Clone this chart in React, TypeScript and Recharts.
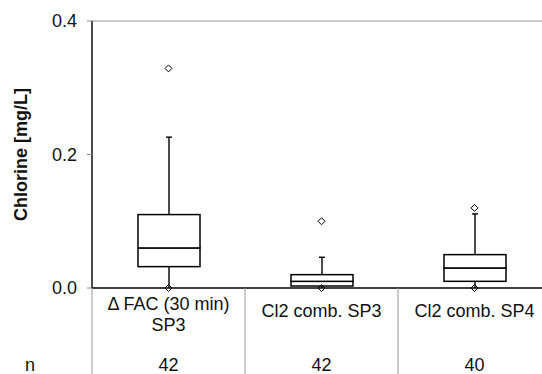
import { ComposedChart, Bar, Scatter, XAxis, YAxis, ReferenceLine } from "recharts";

const categories = ["Δ FAC (30 min) SP3", "Cl2 comb. SP3", "Cl2 comb. SP4"];
const categoryLines = [["Δ FAC (30 min)", "SP3"], ["Cl2 comb. SP3"], ["Cl2 comb. SP4"]];
const counts = [42, 42, 40];
const mins = [0, 0, 0];
const q1s = [0.032, 0.003, 0.01];
const medians = [0.06, 0.01, 0.03];
const q3s = [0.11, 0.02, 0.05];
const maxs = [0.226, 0.046, 0.111];
const outliers = [0.329, 0.1, 0.12];
const yTicks = [0, 0.2, 0.4];

const font = "'Liberation Sans', Arial, sans-serif";

const data = categories.map((name, i) => ({
  name,
  base: mins[i],
  lowWhisker: q1s[i] - mins[i],
  lowBox: medians[i] - q1s[i],
  highBox: q3s[i] - medians[i],
  highWhisker: maxs[i] - q3s[i],
  min: mins[i],
  outlier: outliers[i],
}));

function Whisker(props: any) {
  const { x, y, width, height } = props;
  const cx = x + width / 2;
  return <line x1={cx} y1={y} x2={cx} y2={y + height} stroke="#000" strokeWidth={1.4} />;
}

function TopWhisker(props: any) {
  const { x, y, width, height } = props;
  const cx = x + width / 2;
  return (
    <g>
      <line x1={cx} y1={y} x2={cx} y2={y + height} stroke="#000" strokeWidth={1.4} />
      <line x1={cx - 3} y1={y} x2={cx + 3} y2={y} stroke="#000" strokeWidth={1.4} />
    </g>
  );
}

function BoxPart(props: any) {
  const { x, y, width, height } = props;
  return <rect x={x} y={y} width={width} height={height} fill="#fff" stroke="#000" strokeWidth={1.5} />;
}

function Diamond(props: any) {
  const { cx, cy } = props;
  const r = 3.5;
  return (
    <path
      d={`M${cx},${cy - r}L${cx + r},${cy}L${cx},${cy + r}L${cx - r},${cy}Z`}
      fill="none"
      stroke="#000"
      strokeWidth={1}
    />
  );
}

function CategoryTick(props: any) {
  const { x, y, payload } = props;
  const i = categories.indexOf(payload.value);
  const half = payload.offset || 76.5;
  const lines = categoryLines[i] || [];
  const textProps = { fontFamily: font, fontSize: 18, fill: "#111", textAnchor: "middle" as const };
  return (
    <g>
      {lines.length === 2 ? (
        <>
          <text x={x} y={y + 22} {...textProps}>{lines[0]}</text>
          <text x={x} y={y + 43} {...textProps}>{lines[1]}</text>
        </>
      ) : (
        <text x={x} y={y + 29} {...textProps}>{lines[0]}</text>
      )}
      <text x={x} y={y + 83} {...textProps}>{counts[i]}</text>
      <line x1={x + half} y1={y} x2={x + half} y2={y + 90} stroke="#999" />
      {i === 0 && (
        <>
          <line x1={x - half} y1={y} x2={x - half} y2={y + 90} stroke="#999" />
          <text x={x - half - 62} y={y + 83} {...textProps}>n</text>
        </>
      )}
    </g>
  );
}

function YLabel(props: any) {
  const vb = props.viewBox || { y: 21, height: 267 };
  const cy = vb.y + vb.height / 2;
  return (
    <text
      x={27}
      y={cy}
      transform={`rotate(-90, 27, ${cy})`}
      textAnchor="middle"
      fontFamily={font}
      fontSize={18}
      fontWeight="bold"
      fill="#111"
    >
      Chlorine [mg/L]
    </text>
  );
}

export default function App() {
  return (
    <div style={{ position: "absolute", left: 0, top: 0, width: 542, height: 374, overflow: "hidden", background: "#fff" }}>
      <ComposedChart
        width={560}
        height={374}
        data={data}
        margin={{ top: 21, right: 9, left: 0, bottom: 0 }}
        barSize={62}
        style={{ fontFamily: font }}
      >
        <ReferenceLine y={0.4} stroke="#999" strokeWidth={1} />
        <XAxis
          dataKey="name"
          height={86}
          axisLine={{ stroke: "#000", strokeWidth: 1.4 }}
          tickLine={false}
          tickSize={0}
          tickMargin={0}
          tick={<CategoryTick />}
          interval={0}
        />
        <YAxis
          width={92}
          domain={[0, 0.4]}
          ticks={yTicks}
          tickFormatter={(v: number) => v.toFixed(1)}
          axisLine={{ stroke: "#000", strokeWidth: 1.4 }}
          tickLine={{ stroke: "#888" }}
          tickSize={5}
          tickMargin={10}
          tick={{ fontSize: 18, fill: "#111", fontFamily: font }}
          label={{ content: YLabel }}
        />
        <Bar dataKey="base" stackId="box" fill="none" isAnimationActive={false} />
        <Bar dataKey="lowWhisker" stackId="box" shape={Whisker} isAnimationActive={false} />
        <Bar dataKey="lowBox" stackId="box" shape={BoxPart} isAnimationActive={false} />
        <Bar dataKey="highBox" stackId="box" shape={BoxPart} isAnimationActive={false} />
        <Bar dataKey="highWhisker" stackId="box" shape={TopWhisker} isAnimationActive={false} />
        <Scatter dataKey="min" shape={Diamond} isAnimationActive={false} />
        <Scatter dataKey="outlier" shape={Diamond} isAnimationActive={false} />
      </ComposedChart>
    </div>
  );
}
